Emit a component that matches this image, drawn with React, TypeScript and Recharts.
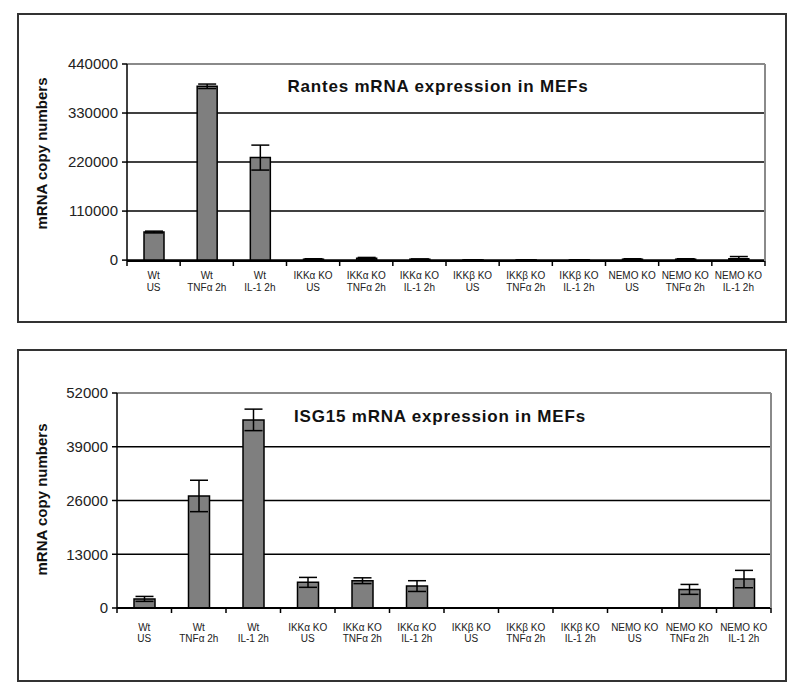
import React from 'react';
import { BarChart, Bar, XAxis, YAxis, CartesianGrid, ErrorBar, ReferenceLine } from 'recharts';

// x categories, two label lines each
const genotypes = [
  'Wt', 'Wt', 'Wt',
  'IKKα KO', 'IKKα KO', 'IKKα KO',
  'IKKβ KO', 'IKKβ KO', 'IKKβ KO',
  'NEMO KO', 'NEMO KO', 'NEMO KO',
];
const treatments = [
  'US', 'TNFα 2h', 'IL-1 2h',
  'US', 'TNFα 2h', 'IL-1 2h',
  'US', 'TNFα 2h', 'IL-1 2h',
  'US', 'TNFα 2h', 'IL-1 2h',
];

const rantesValues = [63000, 390000, 230000, 2000, 4000, 2000, 600, 600, 600, 2000, 2000, 3000];
const rantesErrors = [2000, 5000, 28000, 1000, 2000, 500, 200, 200, 200, 1000, 1000, 5000];
const rantesTicks = [0, 110000, 220000, 330000, 440000];

const isg15Values = [2200, 27100, 45500, 6200, 6600, 5300, 0, 0, 0, 0, 4500, 7000];
const isg15Errors = [600, 3800, 2600, 1200, 700, 1300, null, null, null, null, 1200, 2100];
const isg15Ticks = [0, 13000, 26000, 39000, 52000];

const FONT = '"Liberation Sans", Arial, Helvetica, sans-serif';

const makeTick = (firstDy: number, secondDy: number) => (props: any) => {
  const { x, y, payload } = props;
  const i = payload?.index ?? props.index ?? 0;
  const half = payload?.offset || 26;
  return (
    <g>
      <line x1={x - half} y1={y} x2={x - half} y2={y + 5} stroke="#000" strokeWidth={1.5} />
      {i === genotypes.length - 1 && (
        <line x1={x + half} y1={y} x2={x + half} y2={y + 5} stroke="#000" strokeWidth={1.5} />
      )}
      <text x={x} y={y} textAnchor="middle" fontSize={10} fill="#222" fontFamily={FONT}>
        <tspan x={x} dy={firstDy}>{genotypes[i]}</tspan>
        <tspan x={x} dy={secondDy}>{treatments[i]}</tspan>
      </text>
    </g>
  );
};

interface ExpressionChartProps {
  values: (number | null)[];
  errors: (number | null)[];
  ticks: number[];
  width: number;
  height: number;
  margin: { top: number; right: number; bottom: number; left: number };
  yWidth: number;
  xHeight: number;
  barSize: number;
  dy: [number, number];
  labelShift: number;
}

const ExpressionChart: React.FC<ExpressionChartProps> = ({
  values, errors, ticks, width, height, margin, yWidth, xHeight, barSize, dy, labelShift,
}) => {
  const data = genotypes.map((g, i) => ({
    name: `${g} ${treatments[i]}`,
    value: values[i],
    err: errors[i],
  }));
  const top = ticks[ticks.length - 1];
  return (
    <BarChart width={width} height={height} data={data} margin={margin} barSize={barSize}>
      <CartesianGrid vertical={false} stroke="#000" strokeWidth={1.5} />
      <XAxis
        dataKey="name"
        interval={0}
        height={xHeight}
        axisLine={{ stroke: '#000', strokeWidth: 2 }}
        tickLine={false}
        tickSize={0}
        tickMargin={0}
        tick={makeTick(dy[0], dy[1])}
      />
      <YAxis
        width={yWidth}
        domain={[ticks[0], top]}
        ticks={ticks}
        interval={0}
        tickSize={5}
        tickMargin={4}
        axisLine={{ stroke: '#000', strokeWidth: 1.5 }}
        tickLine={{ stroke: '#000', strokeWidth: 1.5 }}
        tick={{ fill: '#222', fontSize: 15, fontFamily: FONT }}
        label={{
          value: 'mRNA copy numbers',
          angle: -90,
          position: 'insideLeft',
          offset: 23,
          dy: -labelShift,
          style: { textAnchor: 'middle', fontWeight: 'bold', fontSize: 15, fill: '#111', fontFamily: FONT },
        }}
      />
      <YAxis yAxisId="right" orientation="right" width={1} domain={[0, 1]} tick={false} tickLine={false}
        axisLine={{ stroke: '#8a8a8a', strokeWidth: 2 }} />
      <ReferenceLine y={top} stroke="#8a8a8a" strokeWidth={2} />
      <Bar dataKey="value" fill="#7f7f7f" stroke="#000" strokeWidth={1.5} isAnimationActive={false}>
        <ErrorBar dataKey="err" width={9} stroke="#000" strokeWidth={1.5} isAnimationActive={false} />
      </Bar>
    </BarChart>
  );
};

const panelStyle = (top: number, height: number): React.CSSProperties => ({
  position: 'absolute',
  left: 17,
  top,
  width: 770,
  height,
  border: '2px solid #333',
  boxSizing: 'border-box',
  background: '#fff',
});

const titleStyle = (top: number, center: number): React.CSSProperties => ({
  position: 'absolute',
  top,
  left: center - 200,
  width: 400,
  textAlign: 'center',
  fontFamily: FONT,
  fontWeight: 'bold',
  fontSize: 17,
  letterSpacing: 0.8,
  lineHeight: 1,
  color: '#111',
  pointerEvents: 'none',
});

export default function App() {
  return (
    <div style={{ position: 'absolute', left: 0, top: 0, width: 800, height: 693, background: '#fff' }}>
      <div style={panelStyle(13, 310)}>
        <ExpressionChart
          values={rantesValues}
          errors={rantesErrors}
          ticks={rantesTicks}
          width={766}
          height={306}
          margin={{ top: 49, right: 19, bottom: 20, left: 0 }}
          yWidth={108}
          xHeight={40}
          barSize={20}
          dy={[17.5, 12]}
          labelShift={9}
        />
        <div style={titleStyle(63, 419)}>Rantes mRNA expression in MEFs</div>
      </div>
      <div style={panelStyle(349, 333)}>
        <ExpressionChart
          values={isg15Values}
          errors={isg15Errors}
          ticks={isg15Ticks}
          width={766}
          height={329}
          margin={{ top: 42, right: 13, bottom: 27, left: 0 }}
          yWidth={98}
          xHeight={45}
          barSize={21}
          dy={[22.5, 11]}
          labelShift={1}
        />
        <div style={titleStyle(57, 421)}>ISG15 mRNA expression in MEFs</div>
      </div>
    </div>
  );
}
